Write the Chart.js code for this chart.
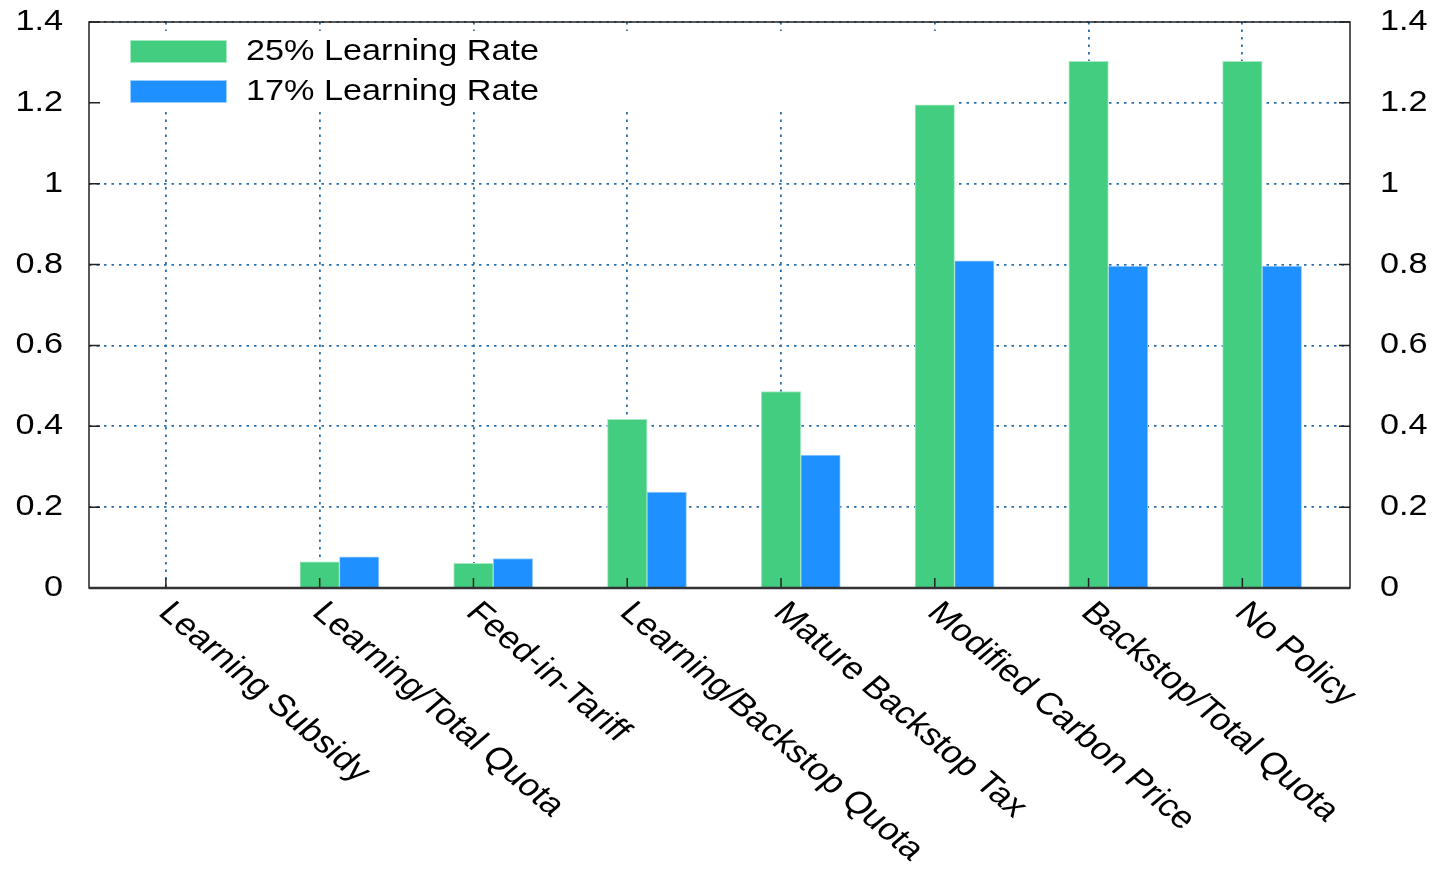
<!DOCTYPE html>
<html>
<head>
<meta charset="utf-8">
<title>Learning rate comparison</title>
<script src="https://cdn.jsdelivr.net/npm/chart.js@4.4.1/dist/chart.umd.min.js"></script>
<style>
  html, body { margin: 0; padding: 0; background: #fff; }
  #wrap { width: 1433px; height: 869px; }
</style>
</head>
<body>
<div id="wrap"><canvas id="chart" width="1433" height="869"></canvas></div>
<script>
// -------------------------------
// Data
// -------------------------------
const categories = [
  'Learning Subsidy', 'Learning/Total Quota', 'Feed-in-Tariff', 'Learning/Backstop Quota',
  'Mature Backstop Tax', 'Modified Carbon Price', 'Backstop/Total Quota', 'No Policy'
];
const seriesLabels = ['25% Learning Rate', '17% Learning Rate'];
const rate25 = [0, 0.065, 0.061, 0.417, 0.486, 1.195, 1.303, 1.303];
const rate17 = [0, 0.077, 0.073, 0.237, 0.329, 0.809, 0.796, 0.796];
const yTicks = [0, 0.2, 0.4, 0.6, 0.8, 1, 1.2, 1.4];
const yTickLabels = ['0', '0.2', '0.4', '0.6', '0.8', '1', '1.2', '1.4'];

// -------------------------------
// Look
// -------------------------------
const FONT = '29px "Liberation Sans", Arial, Helvetica, sans-serif';
const XFONT = '31px "Liberation Sans", Arial, Helvetica, sans-serif';
const SX = 1.18;          // the original text is drawn a little wide
const BAR_SHIFT = 0.257;  // second bar sits one bar width right of the tick
const GREEN = '#43cd80';
const BLUE = '#1e90ff';
const GRID = '#2a70ad';

// text helper: stretched horizontally like the source picture
function stretchedText(ctx, text, x, y, align, baseline, angle) {
  ctx.save();
  ctx.translate(x, y);
  ctx.scale(SX, 1);
  if (angle) ctx.rotate(angle);
  ctx.textAlign = align;
  ctx.textBaseline = baseline;
  ctx.fillText(text, 0, 0);
  ctx.restore();
}

const gnuplotLook = {
  id: 'gnuplotLook',
  beforeDatasetsDraw(chart) {
    const ctx = chart.ctx, a = chart.chartArea;
    ctx.save();
    // key box blanks the grid behind it
    ctx.fillStyle = '#fff';
    ctx.fillRect(a.left + 1, a.top + 9, 869, 80);
    ctx.font = FONT;
    chart.data.datasets.forEach((ds, i) => {
      const y = a.top + 19 + i * 40;
      ctx.fillStyle = ds.borderColor;
      ctx.fillRect(a.left + 41, y - 1, 97, 23);
      ctx.fillStyle = ds.backgroundColor;
      ctx.fillRect(a.left + 42, y, 95, 21);
      ctx.fillStyle = '#000';
      stretchedText(ctx, ds.label, a.left + 157, y + 19, 'left', 'alphabetic');
    });
    ctx.restore();
  },
  afterDatasetsDraw(chart) {
    const ctx = chart.ctx, a = chart.chartArea;
    const xs = chart.scales.x, ys = chart.scales.y;
    ctx.save();
    ctx.strokeStyle = '#222';
    ctx.lineWidth = 1.5;
    ctx.beginPath();
    // inward tick marks
    yTicks.forEach(v => {
      const py = ys.getPixelForValue(v);
      ctx.moveTo(a.left, py); ctx.lineTo(a.left + 11, py);
      ctx.moveTo(a.right, py); ctx.lineTo(a.right - 11, py);
    });
    categories.forEach((c, i) => {
      const px = xs.getPixelForValue(i);
      ctx.moveTo(px, a.bottom); ctx.lineTo(px, a.bottom - 10);
    });
    ctx.stroke();
    ctx.strokeRect(a.left, a.top, a.right - a.left, a.bottom - a.top);
    ctx.lineWidth = 2.5;
    ctx.strokeStyle = '#333';
    ctx.beginPath();
    ctx.moveTo(a.left, a.bottom); ctx.lineTo(a.right, a.bottom);
    ctx.stroke();

    ctx.fillStyle = '#000';
    ctx.font = FONT;
    yTicks.forEach((v, i) => {
      const py = ys.getPixelForValue(v);
      stretchedText(ctx, yTickLabels[i], a.left - 26, py, 'right', 'middle');
      stretchedText(ctx, yTickLabels[i], a.right + 30, py, 'left', 'middle');
    });
    ctx.font = XFONT;
    categories.forEach((c, i) => {
      const px = xs.getPixelForValue(i);
      stretchedText(ctx, c, px - 9, a.bottom + 26, 'left', 'alphabetic', Math.PI / 4);
    });
    ctx.restore();
  }
};

const gridOpts = { color: GRID, lineWidth: 1.8, drawTicks: false, offset: false };
const borderOpts = { display: false, dash: [2.5, 5] };

new Chart(document.getElementById('chart'), {
  type: 'bar',
  data: {
    datasets: [{
      label: seriesLabels[0],
      data: rate25.map((v, i) => ({ x: i, y: v })),
      backgroundColor: GREEN,
      borderColor: '#a6e9c3',
      borderWidth: 1,
      barThickness: 39.5,
      grouped: false
    }, {
      label: seriesLabels[1],
      data: rate17.map((v, i) => ({ x: i + BAR_SHIFT, y: v })),
      backgroundColor: BLUE,
      borderColor: '#9ccdff',
      borderWidth: 1,
      barThickness: 39.5,
      grouped: false
    }]
  },
  options: {
    responsive: false,
    animation: false,
    layout: { padding: { left: 89, right: 83, top: 22, bottom: 281 } },
    plugins: { legend: { display: false }, tooltip: { enabled: false } },
    scales: {
      x: {
        type: 'linear', min: -0.5, max: 7.7, offset: false,
        afterBuildTicks: s => { s.ticks = categories.map((c, i) => ({ value: i })); },
        ticks: { display: false },
        grid: gridOpts,
        border: borderOpts
      },
      y: {
        type: 'linear', min: 0, max: 1.4,
        afterBuildTicks: s => { s.ticks = yTicks.map(v => ({ value: v })); },
        ticks: { display: false },
        grid: gridOpts,
        border: borderOpts
      }
    }
  },
  plugins: [gnuplotLook]
});
</script>
</body>
</html>
